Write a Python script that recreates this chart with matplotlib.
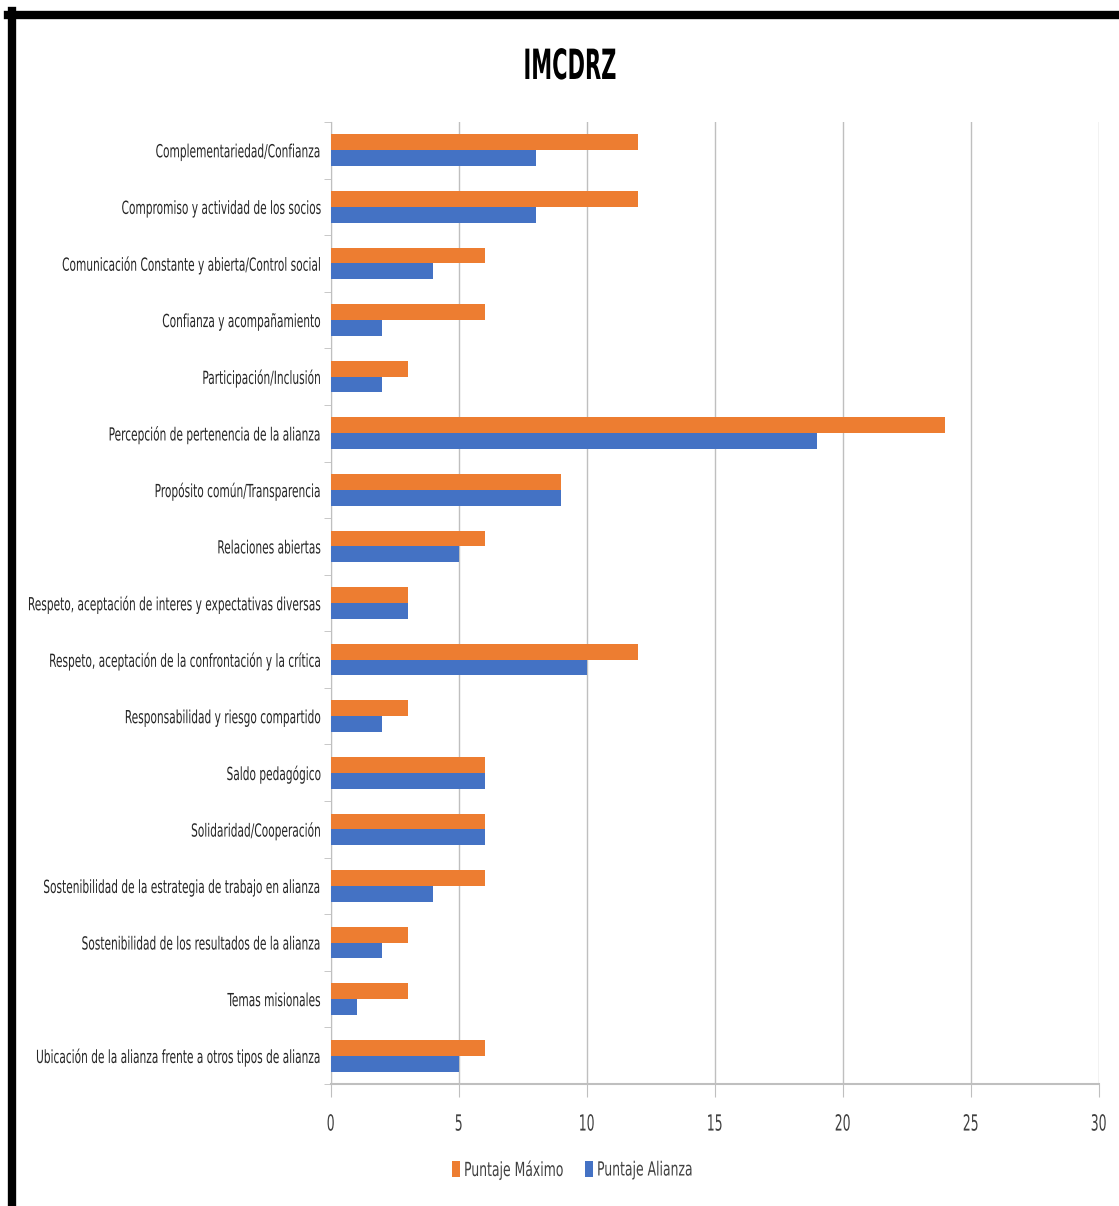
import numpy as np
from matplotlib import pyplot as plt
from matplotlib.lines import Line2D
from matplotlib.patheffects import AbstractPathEffect
from matplotlib.transforms import Affine2D, Bbox

categories = [
    'Complementariedad/Confianza',
    'Compromiso y actividad de los socios',
    'Comunicación Constante y abierta/Control social',
    'Confianza y acompañamiento',
    'Participación/Inclusión',
    'Percepción de pertenencia de la alianza',
    'Propósito común/Transparencia',
    'Relaciones abiertas',
    'Respeto, aceptación de interes y expectativas diversas',
    'Respeto, aceptación de la confrontación y la crítica',
    'Responsabilidad y riesgo compartido',
    'Saldo pedagógico',
    'Solidaridad/Cooperación',
    'Sostenibilidad de la estrategia de trabajo en alianza',
    'Sostenibilidad de los resultados de la alianza',
    'Temas misionales',
    'Ubicación de la alianza frente a otros tipos de alianza',
]
puntaje_maximo = [12, 12, 6, 6, 3, 24, 9, 6, 3, 12, 3, 6, 6, 6, 3, 3, 6]
puntaje_alianza = [8, 8, 4, 2, 2, 19, 9, 5, 3, 10, 2, 6, 6, 4, 2, 1, 5]
x_ticks = [0, 5, 10, 15, 20, 25, 30]

plt.rcParams['font.family'] = ['DejaVu Sans']
plt.rcParams['font.stretch'] = 'condensed'

orange = '#ED7D31'
blue = '#4472C4'
grey = '#BFBFBF'


class Squeeze(AbstractPathEffect):
    # narrows text horizontally, like the narrow office font of the original
    def __init__(self, sx, anchor='right'):
        super().__init__()
        self.sx = sx
        self.anchor = anchor

    def draw_path(self, renderer, gc, tpath, affine, rgbFace=None):
        xs = affine.transform(tpath.vertices)[:, 0]
        if len(xs) == 0:
            return
        if self.anchor == 'right':
            x0 = xs.max()
        elif self.anchor == 'left':
            x0 = xs.min()
        else:
            x0 = (xs.min() + xs.max()) / 2
        tr = affine + Affine2D().translate(-x0, 0).scale(self.sx, 1).translate(x0, 0)
        renderer.draw_path(gc, tpath, tr, rgbFace)


def squeeze_text(t, sx, anchor):
    t.set_path_effects([Squeeze(sx, anchor)])
    orig = t.get_window_extent

    def extent(renderer=None, dpi=None):
        bb = orig(renderer, dpi)
        if anchor == 'right':
            x0 = bb.x1
        elif anchor == 'left':
            x0 = bb.x0
        else:
            x0 = (bb.x0 + bb.x1) / 2
        return Bbox.from_extents(x0 + (bb.x0 - x0) * sx, bb.y0,
                                 x0 + (bb.x1 - x0) * sx, bb.y1)
    t.get_window_extent = extent


fig = plt.figure(figsize=(11.19, 12.06), dpi=100)
ax = fig.add_axes([331 / 1119, 1 - 1084 / 1206, 768 / 1119, (1084 - 122) / 1206])

y = np.arange(len(categories))
h = 0.28
ax.barh(y - h / 2, puntaje_maximo, height=h, color=orange, label='Puntaje Máximo', zorder=3)
ax.barh(y + h / 2, puntaje_alianza, height=h, color=blue, label='Puntaje Alianza', zorder=3)

ax.set_ylim(len(categories) - 0.5, -0.5)
ax.set_xlim(0, 30)
ax.set_xticks(x_ticks)
ax.set_yticks(y)
ax.set_yticklabels(categories, fontsize=13, color='#262626')
ax.set_xticklabels([str(t) for t in x_ticks], fontsize=16, color='#404040')
ax.tick_params(axis='y', length=0, pad=7)
ax.tick_params(axis='x', length=9, color=grey, pad=13)
ax.set_yticks(np.arange(-0.5, len(categories), 1), minor=True)
ax.tick_params(axis='y', which='minor', length=5, color=grey)
ax.grid(axis='x', color=grey, linewidth=1, zorder=0)
for s in ['top', 'right']:
    ax.spines[s].set_visible(False)
ax.spines['left'].set_color(grey)
ax.spines['bottom'].set_color(grey)
ax.spines['bottom'].set_linewidth(1.5)

renderer = fig.canvas.get_renderer()
widest = max(t.get_window_extent(renderer).width for t in ax.get_yticklabels())
label_sx = min(1.0, 293 / widest)
for t in ax.get_yticklabels():
    squeeze_text(t, label_sx, 'right')
for t in ax.get_xticklabels():
    squeeze_text(t, 0.62, 'center')

title = fig.text(570 / 1119, 1 - 67 / 1206, 'IMCDRZ', fontsize=30, fontweight='bold',
                 ha='center', va='center', color='black')
squeeze_text(title, 0.56, 'center')

handles, labels = ax.get_legend_handles_labels()
for handle, label, xpos in zip(handles, labels, [452, 585]):
    leg = fig.legend([handle], [label], loc='center left',
                     bbox_to_anchor=(xpos / 1119, 1 - 1170 / 1206),
                     frameon=False, fontsize=14, handlelength=0.42, handleheight=0.9,
                     handletextpad=0.2, borderaxespad=0, borderpad=0,
                     labelcolor='#404040')
    for t in leg.get_texts():
        squeeze_text(t, 0.71, 'left')

# black frame around the picture (top and left edges visible)
fig.add_artist(Line2D([8 / 1119, 1], [1 - 15 / 1206, 1 - 15 / 1206],
                      transform=fig.transFigure, color='black', linewidth=6))
fig.add_artist(Line2D([12 / 1119, 12 / 1119], [0, 1 - 11 / 1206],
                      transform=fig.transFigure, color='black', linewidth=6))

fig.savefig('out.png', dpi=100)
